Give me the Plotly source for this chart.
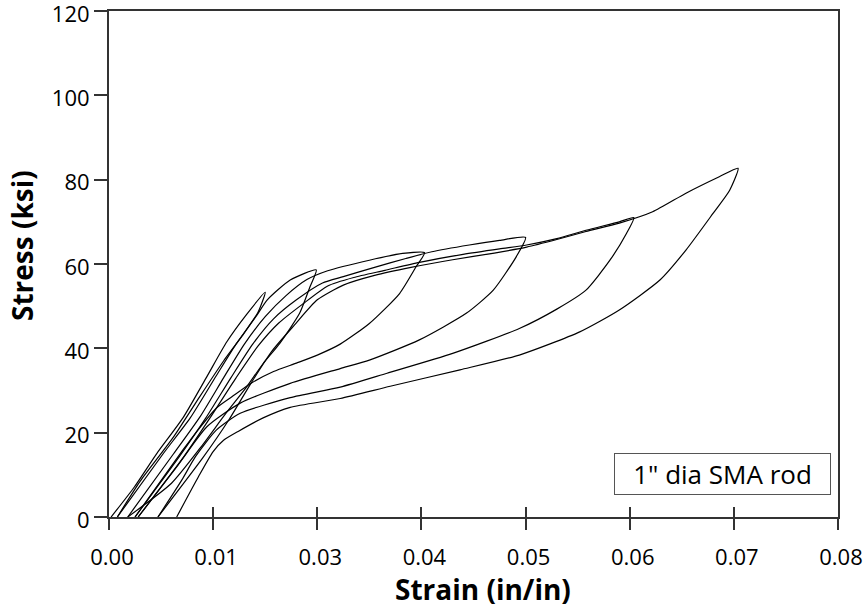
import plotly.graph_objects as go

# ---- data (strain in/in, stress ksi) ----
cycle1_strain = [0.0002, 0.0024, 0.0046, 0.0071, 0.0094, 0.0113, 0.0132, 0.0150,
                 0.0143, 0.0128, 0.0110, 0.0087, 0.0062, 0.0030, 0.0008]
cycle1_stress = [0, 7, 15.1, 23.5, 33.3, 41.5, 48.0, 53.3,
                 48.5, 43.0, 37.0, 28.5, 19.0, 8.5, 0]

cycle2_strain = [0.0008, 0.0052, 0.0078, 0.0103, 0.0122, 0.0141, 0.0152, 0.0174, 0.0199,
                 0.0193, 0.0183, 0.0164, 0.0148, 0.0132, 0.0112, 0.0088, 0.0060, 0.0018]
cycle2_stress = [0, 15, 23.5, 33.5, 41, 47.5, 51.5, 56.2, 58.6,
                 54.6, 48.3, 41.2, 36.4, 30.8, 24.5, 16.5, 8, 0]

cycle3_strain = [0.0018, 0.0062, 0.0088, 0.0110, 0.0130, 0.0150, 0.0170, 0.0190, 0.0210,
                 0.0250, 0.0282, 0.0303,
                 0.0295, 0.0279, 0.0250, 0.0222, 0.0200, 0.0180, 0.0158, 0.0135,
                 0.0118, 0.0103, 0.0085, 0.0071, 0.0025]
cycle3_stress = [0, 15, 24, 33, 41, 47.5, 52.5, 56.3, 58.4,
                 60.9, 62.5, 62.7,
                 59.4, 53.0, 45.9, 41.0, 38.4, 36.5, 34.5, 31.5,
                 28.5, 25.8, 20.5, 15.9, 0]

cycle4_strain = [0.0025, 0.0068, 0.0093, 0.0117, 0.0138, 0.0158, 0.0180, 0.0205, 0.0225,
                 0.0255, 0.0285, 0.0310, 0.0346, 0.0375, 0.0400,
                 0.0391, 0.0369, 0.0343, 0.0298, 0.0250, 0.0222, 0.0174, 0.0126,
                 0.0094, 0.0065, 0.0028]
cycle4_stress = [0, 14.5, 23.5, 33, 41, 47, 51.5, 55.5, 57.0,
                 59.2, 61.3, 62.9, 64.5, 65.6, 66.3,
                 61.7, 53.8, 48.3, 42.0, 37.2, 35.2, 31.7, 27.0,
                 21.4, 11.9, 0]

cycle5_strain = [0.0028, 0.0071, 0.0097, 0.0122, 0.0143, 0.0163, 0.0186, 0.0210, 0.0235,
                 0.0265, 0.0298, 0.0340, 0.0375, 0.0401, 0.0430, 0.0458, 0.0490, 0.0504,
                 0.0497, 0.0481, 0.0458, 0.0430, 0.0394, 0.0330, 0.0267, 0.0222,
                 0.0174, 0.0126, 0.0103, 0.0083, 0.0070, 0.0047]
cycle5_stress = [0, 14, 23.5, 33, 40.5, 46, 50.5, 54.8, 56.8,
                 58.5, 60.4, 62.3, 63.6, 64.5, 66.0, 68.0, 70.0, 71.0,
                 67.3, 60.9, 53.8, 49.3, 44.7, 38.8, 34.1, 30.8,
                 28.3, 24.6, 20.6, 14.3, 8.8, 0]

cycle6_strain = [0.0047, 0.0090, 0.0115, 0.0137, 0.0157, 0.0178, 0.0200, 0.0225, 0.0255,
                 0.0290, 0.0330, 0.0370, 0.0401, 0.0430, 0.0458, 0.0490, 0.0522, 0.0554,
                 0.0586, 0.0604,
                 0.0596, 0.0580, 0.0554, 0.0529, 0.0490, 0.0452, 0.0394, 0.0337,
                 0.0270, 0.0222, 0.0174, 0.0148, 0.0124, 0.0110, 0.0100, 0.0086, 0.0065]
cycle6_stress = [0, 14, 23, 32, 39.5, 45.5, 51.5, 55.0, 57.3,
                 59.2, 61.0, 62.6, 64.0, 65.8, 67.7, 69.7, 72.4, 76.8,
                 80.7, 82.7,
                 77.5, 72.0, 63.3, 56.2, 49.1, 43.9, 38.4, 34.9,
                 31.0, 28.1, 26.0, 23.5, 20.3, 18.2, 15.5, 9.6, 0]

xtick_vals = [0.00, 0.01, 0.02, 0.03, 0.04, 0.05, 0.06, 0.07]
xtick_labels = ["0.00", "0.01", "0.03", "0.04", "0.05", "0.06", "0.07", "0.08"]
ytick_vals = [0, 20, 40, 60, 80, 100, 120]
ytick_labels = ["0", "20", "40", "60", "80", "100", "120"]

x_title = "Strain (in/in)"
y_title = "Stress (ksi)"
box_text = '1" dia SMA rod'

cycles = [
    (cycle1_strain, cycle1_stress),
    (cycle2_strain, cycle2_stress),
    (cycle3_strain, cycle3_stress),
    (cycle4_strain, cycle4_stress),
    (cycle5_strain, cycle5_stress),
    (cycle6_strain, cycle6_stress),
]

FONT = "Open Sans"
AX = "#333333"

fig = go.Figure()
for i, (xs, ys) in enumerate(cycles):
    fig.add_trace(go.Scatter(
        x=xs, y=ys, mode="lines", name=f"Cycle {i+1}",
        line=dict(color="black", width=1.2, shape="spline", smoothing=0.6),
        showlegend=False, hoverinfo="skip"))

# empty trace to carry the overlaid tick axis (inside ticks -> cross ticks)
fig.add_trace(go.Scatter(x=[], y=[], xaxis="x2", yaxis="y", showlegend=False))

fig.update_layout(
    width=863, height=608,
    margin=dict(l=109, r=25, t=11, b=91, autoexpand=False),
    paper_bgcolor="white", plot_bgcolor="white",
    font=dict(family=FONT, color="black"),
    xaxis=dict(
        range=[0, 0.07], tickmode="array", tickvals=xtick_vals, ticktext=xtick_labels,
        ticks="outside", ticklen=11, tickwidth=1.5, tickcolor=AX,
        showline=True, linecolor=AX, linewidth=2, mirror=True,
        showgrid=False, zeroline=False, automargin=False,
        tickfont=dict(family=FONT, size=22, color="black"),
        ticklabelshift=3, ticklabelstandoff=9, ticklabeloverflow="allow",
    ),
    xaxis2=dict(
        range=[0, 0.07], overlaying="x", anchor="y", side="bottom",
        tickmode="array", tickvals=xtick_vals, ticks="inside", ticklen=10,
        tickwidth=1.5, tickcolor=AX, showticklabels=False, automargin=False,
        showline=False, showgrid=False, zeroline=False,
    ),
    yaxis=dict(
        range=[0, 120], tickmode="array", tickvals=ytick_vals, ticktext=ytick_labels,
        ticks="outside", ticklen=13, tickwidth=1.5, tickcolor=AX,
        showline=True, linecolor=AX, linewidth=2, mirror=True,
        showgrid=False, zeroline=False, automargin=False,
        tickfont=dict(family=FONT, size=22, color="black"),
        ticklabeloverflow="allow", ticklabelshift=3,
    ),
    annotations=[
        dict(text=y_title, xref="paper", yref="paper", x=-0.1193, y=0.5356,
             textangle=-90, showarrow=False, xanchor="center", yanchor="middle",
             font=dict(family=FONT, size=28, color="black", weight="bold")),
        dict(text=x_title, xref="paper", yref="paper", x=0.513, y=-0.142,
             showarrow=False, xanchor="center", yanchor="middle",
             font=dict(family=FONT, size=28, color="black", weight="bold")),
        dict(text=box_text, xref="paper", yref="paper", x=0.9904, y=0.0435,
             xanchor="right", yanchor="bottom", showarrow=False,
             width=213, height=38, borderpad=1, bordercolor="#555555", borderwidth=1,
             bgcolor="white", align="center",
             font=dict(family=FONT, size=26, color="black")),
    ],
)

fig.write_html("out.html",
               config={"displayModeBar": False},
               post_script="document.body.style.margin='0';document.body.style.padding='0';")
